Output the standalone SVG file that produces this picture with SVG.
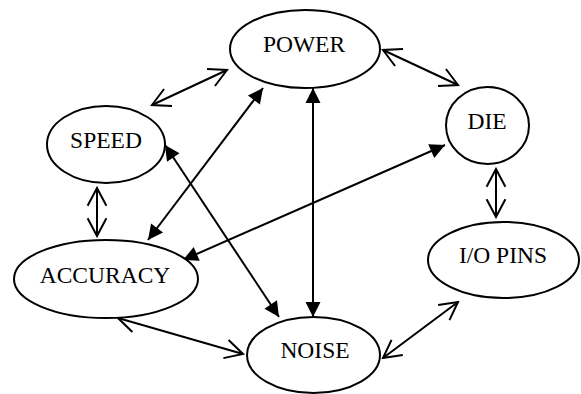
<svg xmlns="http://www.w3.org/2000/svg" width="581" height="394" viewBox="0 0 581 394">
<defs>
<style>
.node ellipse{fill:#fff;stroke:#000;stroke-width:2}
.node text{font-family:"Liberation Serif","Times New Roman",serif;font-size:23.5px;fill:#000;text-anchor:middle}
.open{stroke:#000;stroke-width:2;fill:none;marker-start:url(#open);marker-end:url(#open)}
.solid{stroke:#000;stroke-width:2;fill:none;marker-start:url(#solid);marker-end:url(#solid)}
</style>
<marker id="open" viewBox="-22 -12 24 24" refX="0" refY="0" markerWidth="24" markerHeight="24" markerUnits="userSpaceOnUse" orient="auto-start-reverse">
<path d="M-17.7,-9.4 L0,0 L-17.7,9.4" fill="none" stroke="#000" stroke-width="2"/>
</marker>
<marker id="solid" viewBox="-18 -10 20 20" refX="0" refY="0" markerWidth="20" markerHeight="20" markerUnits="userSpaceOnUse" orient="auto-start-reverse">
<path d="M-15,-7.5 L0,0 L-15,7.5 Z" fill="#000"/>
</marker>
</defs>
<rect width="581" height="394" fill="#fff"/>
<g id="connectors">
<line class="open" x1="152" y1="105" x2="227" y2="70"/>
<line class="open" x1="383" y1="50" x2="458" y2="85"/>
<line class="open" x1="496" y1="169" x2="496" y2="217"/>
<line class="open" x1="97" y1="188" x2="97" y2="236"/>
<line class="open" x1="118" y1="318" x2="243" y2="354"/>
<line class="open" x1="383" y1="358" x2="458" y2="302"/>
<line class="solid" x1="148" y1="240" x2="263" y2="88"/>
<line class="solid" x1="165" y1="145" x2="279" y2="317"/>
<line class="solid" x1="313" y1="88" x2="313" y2="317"/>
<line class="solid" x1="445" y1="145" x2="183" y2="260"/>
</g>
<g id="power" class="node"><ellipse cx="305" cy="49" rx="75" ry="39"/><text x="304" y="52">POWER</text></g>
<g id="speed" class="node"><ellipse cx="106" cy="144.5" rx="59" ry="38.5"/><text x="106" y="148">SPEED</text></g>
<g id="die" class="node"><ellipse cx="487.5" cy="125.5" rx="41.5" ry="38.5"/><text x="487" y="129">DIE</text></g>
<g id="accuracy" class="node"><ellipse cx="106" cy="279" rx="92" ry="39"/><text x="105" y="283">ACCURACY</text></g>
<g id="noise" class="node"><ellipse cx="313.5" cy="355" rx="66.5" ry="38"/><text x="315" y="358">NOISE</text></g>
<g id="iopins" class="node"><ellipse cx="503.5" cy="260" rx="75.5" ry="38"/><text x="503" y="263">I/O PINS</text></g>
</svg>
